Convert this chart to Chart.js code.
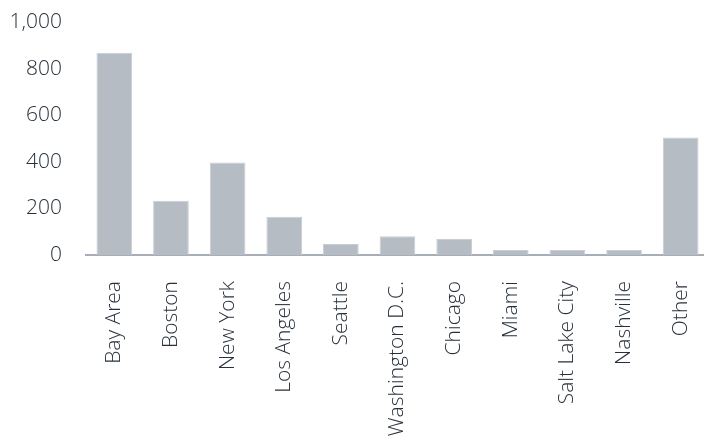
<!DOCTYPE html>
<html>
<head>
<meta charset="utf-8">
<script src="https://cdn.jsdelivr.net/npm/chart.js@4"></script>
<style>
  html, body { margin: 0; padding: 0; background: #fff; overflow: hidden; }
  #wrap { width: 709px; height: 445px; }
</style>
</head>
<body>
<div id="wrap"><canvas id="cityChart" width="709" height="445"></canvas></div>
<script>
const CITIES = ['Bay Area', 'Boston', 'New York', 'Los Angeles', 'Seattle', 'Washington D.C.',
  'Chicago', 'Miami', 'Salt Lake City', 'Nashville', 'Other'];
const COUNTS = [868, 233, 397, 164, 47, 81, 69, 21, 21, 21, 504];
const Y_TICKS = [0, 200, 400, 600, 800, 1000];

const TEXT_COLOR = '#28313b';
const FONT = 'Open Sans';

const ctx = document.getElementById('cityChart').getContext('2d');
new Chart(ctx, {
  type: 'bar',
  data: {
    labels: CITIES,
    datasets: [{
      data: COUNTS,
      backgroundColor: '#b6bcc4',
      borderColor: '#c9cdd3',
      borderWidth: 1,
      barPercentage: 0.63,
      categoryPercentage: 1
    }]
  },
  options: {
    responsive: false,
    animation: false,
    layout: { padding: { top: 22, left: 0, right: 0, bottom: 0 } },
    plugins: {
      legend: { display: false },
      tooltip: { enabled: false }
    },
    scales: {
      x: {
        grid: { display: false, drawTicks: false },
        border: { display: true, color: '#a7aeb7', width: 2 },
        ticks: {
          color: TEXT_COLOR,
          font: { family: FONT, size: 21, weight: 300 },
          minRotation: 90,
          maxRotation: 90,
          padding: 26,
          autoSkip: false
        },
        afterFit: scale => {
          scale.height = 190;
          scale.paddingLeft = 0;
          scale.paddingRight = 0;
        }
      },
      y: {
        min: 0,
        max: 1000,
        grid: { display: false, drawTicks: false },
        border: { display: false },
        afterBuildTicks: scale => { scale.ticks = Y_TICKS.map(v => ({ value: v })); },
        ticks: {
          color: TEXT_COLOR,
          font: { family: FONT, size: 21, weight: 300 },
          padding: 24,
          callback: v => v.toLocaleString('en-US')
        },
        afterFit: scale => {
          scale.width = 86;
          scale.paddingTop = 0;
          scale.paddingBottom = 0;
        }
      }
    }
  }
});
</script>
</body>
</html>
